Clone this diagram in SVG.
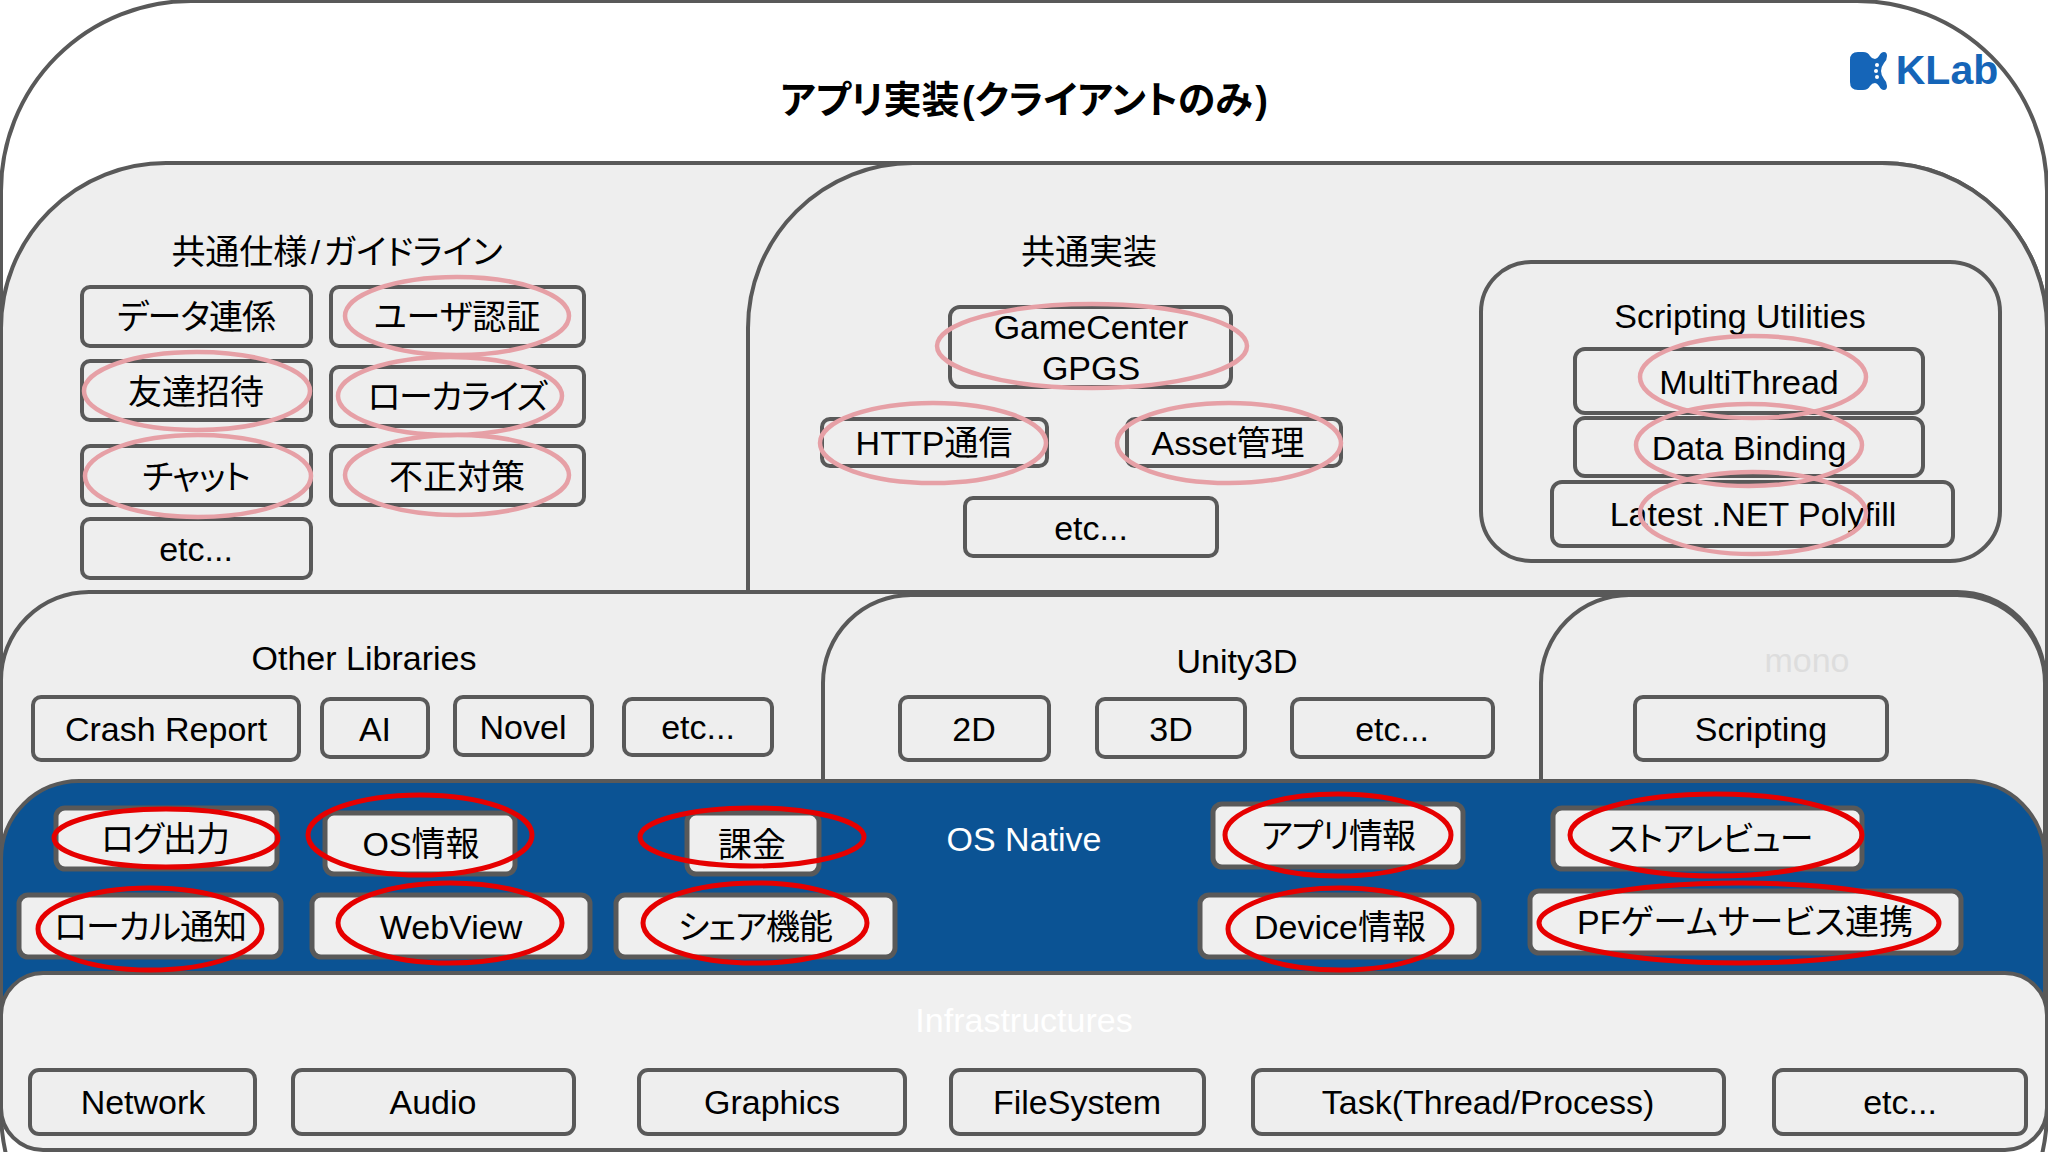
<svg xmlns="http://www.w3.org/2000/svg" width="2048" height="1152" viewBox="0 0 2048 1152">
<style>
text{font-family:"Liberation Sans","Noto Sans CJK JP",sans-serif;font-size:34px;fill:#000;text-anchor:middle;font-feature-settings:"palt"}
.panel{fill:#eeeeee;stroke:#595959;stroke-width:4}
.box{fill:#eeeeee;stroke:#595959;stroke-width:4}
.nbox{fill:#efefef;stroke:#595959;stroke-width:5}
.pink{fill:none;stroke:#e6a0a6;stroke-width:4.5}
.red{fill:none;stroke:#e60000;stroke-width:5}
.wh{fill:#ffffff}
.ka{letter-spacing:-1px}
</style>
<rect width="2048" height="1152" fill="#fff"/>
<g id="app"><rect class="panel" style="fill:#fff" x="1" y="1" width="2046" height="1300" rx="190" ry="190"/>
<text x="1024" y="113" style="font-size:38px;font-weight:bold;word-spacing:-8px">アプリ実装 (クライアントのみ )</text></g>
<g id="logo"><path d="M1850 60Q1850 52 1858 52H1863Q1868 52 1870 56Q1872 59 1875 59Q1877 59 1879 56Q1881 52 1884 52Q1887 52 1887 56Q1887 60 1884 63Q1881 67 1881 71Q1881 75 1884 79Q1887 82 1887 86Q1887 90 1884 90Q1881 90 1879 86Q1877 83 1875 83Q1872 83 1870 86Q1868 90 1863 90H1858Q1850 90 1850 82Z" fill="#1565b8"/><circle cx="1877" cy="65" r="2" fill="#fff"/><circle cx="1876" cy="71" r="2" fill="#fff"/><circle cx="1877" cy="77" r="2" fill="#fff"/><text x="1947" y="84" style="font-size:41px;font-weight:bold;fill:#1565b8">KLab</text></g>
<g id="common-spec"><rect class="panel" x="1" y="163" width="2046" height="900" rx="165" ry="165"/>
<text x="337" y="264" style="word-spacing:-6px">共通仕様 / ガイドライン</text></g>
<g id="common-impl"><rect class="panel" x="748" y="163" width="1299" height="900" rx="165" ry="165"/>
<text x="1089" y="264">共通実装</text></g>
<g id="scripting-utilities"><rect class="panel" x="1481" y="262" width="519" height="299" rx="50" ry="50"/>
<text x="1740" y="328">Scripting Utilities</text></g>

<g id="spec1"><rect class="box" x="82" y="287" width="229" height="59" rx="8"/><text class="ka" x="196" y="329">データ連係</text></g>
<g id="spec2"><rect class="box" x="331" y="287" width="253" height="59" rx="8"/><text x="457" y="329">ユーザ認証</text></g>
<g id="spec3"><rect class="box" x="82" y="361" width="229" height="59" rx="8"/><text x="196" y="404">友達招待</text></g>
<g id="spec4"><rect class="box" x="331" y="367" width="253" height="59" rx="8"/><text x="457" y="409" style="letter-spacing:-1.5px">ローカライズ</text></g>
<g id="spec5"><rect class="box" x="82" y="446" width="229" height="59" rx="8"/><text class="ka" x="196" y="489">チャット</text></g>
<g id="spec6"><rect class="box" x="331" y="446" width="253" height="59" rx="8"/><text x="457" y="489">不正対策</text></g>
<g id="spec7"><rect class="box" x="82" y="519" width="229" height="59" rx="8"/><text x="196" y="561">etc...</text></g>

<g id="impl1"><rect class="box" x="950" y="307" width="281" height="80" rx="10"/><text x="1091" y="339">GameCenter</text><text x="1091" y="380">GPGS</text></g>
<g id="impl2"><rect class="box" x="822" y="419" width="225" height="47" rx="8"/><text x="934" y="455">HTTP通信</text></g>
<g id="impl3"><rect class="box" x="1127" y="419" width="214" height="47" rx="8"/><text x="1228" y="455">Asset管理</text></g>
<g id="impl4"><rect class="box" x="965" y="498" width="252" height="58" rx="8"/><text x="1091" y="540">etc...</text></g>

<g id="su1"><rect class="box" x="1575" y="349" width="348" height="64" rx="10"/><text x="1749" y="394">MultiThread</text></g>
<g id="su2"><rect class="box" x="1575" y="418" width="348" height="58" rx="10"/><text x="1749" y="460">Data Binding</text></g>
<g id="su3"><rect class="box" x="1552" y="482" width="401" height="64" rx="10"/><text x="1753" y="526">Latest .NET Polyfill</text></g>

<g id="other-libs"><rect class="panel" x="1" y="592" width="2044" height="500" rx="88" ry="88"/>
<text x="364" y="670">Other Libraries</text></g>
<g id="unity"><rect class="panel" x="823" y="595" width="1222" height="500" rx="88" ry="88"/>
<text x="1237" y="673">Unity3D</text></g>
<g id="mono"><rect class="panel" x="1541" y="595" width="504" height="500" rx="88" ry="88"/>
<text x="1807" y="672" style="fill:#dddddd">mono</text></g>

<g id="lib1"><rect class="box" x="33" y="697" width="266" height="63" rx="8"/><text x="166" y="741">Crash Report</text></g>
<g id="lib2"><rect class="box" x="322" y="699" width="106" height="58" rx="8"/><text x="375" y="741">AI</text></g>
<g id="lib3"><rect class="box" x="455" y="697" width="137" height="58" rx="8"/><text x="523" y="739">Novel</text></g>
<g id="lib4"><rect class="box" x="624" y="699" width="148" height="56" rx="8"/><text x="698" y="739">etc...</text></g>
<g id="u1"><rect class="box" x="900" y="697" width="149" height="63" rx="8"/><text x="974" y="741">2D</text></g>
<g id="u2"><rect class="box" x="1097" y="699" width="148" height="58" rx="8"/><text x="1171" y="741">3D</text></g>
<g id="u3"><rect class="box" x="1292" y="699" width="201" height="58" rx="8"/><text x="1392" y="741">etc...</text></g>
<g id="m1"><rect class="box" x="1635" y="697" width="252" height="63" rx="8"/><text x="1761" y="741">Scripting</text></g>

<g id="native"><rect x="1" y="781" width="2044" height="300" rx="78" ry="78" fill="#0b5394" stroke="#595959" stroke-width="4"/>
<text class="wh" x="1024" y="851">OS Native</text></g>
<g id="infra"><rect class="panel" style="fill:#f0f0f0" x="1" y="973" width="2046" height="177" rx="42" ry="42"/>
<text class="wh" x="1024" y="1032">Infrastructures</text></g>

<g id="n1"><rect class="nbox" x="56" y="808" width="221" height="61" rx="9"/><text class="ka" x="165" y="851">ログ出力</text></g>
<g id="n2"><rect class="nbox" x="325" y="813" width="190" height="61" rx="9"/><text x="421" y="856">OS情報</text></g>
<g id="n3"><rect class="nbox" x="687" y="813" width="132" height="61" rx="9"/><text x="752" y="857">課金</text></g>
<g id="n4"><rect class="nbox" x="1213" y="804" width="250" height="63" rx="9"/><text class="ka" x="1338" y="848">アプリ情報</text></g>
<g id="n5"><rect class="nbox" x="1553" y="808" width="309" height="61" rx="9"/><text class="ka" x="1710" y="851">ストアレビュー</text></g>
<g id="n6"><rect class="nbox" x="19" y="895" width="262" height="62" rx="9"/><text class="ka" x="150" y="939">ローカル通知</text></g>
<g id="n7"><rect class="nbox" x="312" y="895" width="278" height="62" rx="9"/><text x="451" y="939">WebView</text></g>
<g id="n8"><rect class="nbox" x="616" y="895" width="279" height="62" rx="9"/><text class="ka" x="755" y="939">シェア機能</text></g>
<g id="n9"><rect class="nbox" x="1200" y="895" width="279" height="62" rx="9"/><text x="1340" y="939">Device情報</text></g>
<g id="n10"><rect class="nbox" x="1530" y="891" width="431" height="62" rx="9"/><text x="1745" y="934">PFゲームサービス連携</text></g>

<g id="i1"><rect class="box" x="30" y="1070" width="225" height="64" rx="9"/><text x="143" y="1114">Network</text></g>
<g id="i2"><rect class="box" x="293" y="1070" width="281" height="64" rx="9"/><text x="433" y="1114">Audio</text></g>
<g id="i3"><rect class="box" x="639" y="1070" width="266" height="64" rx="9"/><text x="772" y="1114">Graphics</text></g>
<g id="i4"><rect class="box" x="951" y="1070" width="253" height="64" rx="9"/><text x="1077" y="1114">FileSystem</text></g>
<g id="i5"><rect class="box" x="1253" y="1070" width="471" height="64" rx="9"/><text x="1488" y="1114">Task(Thread/Process)</text></g>
<g id="i6"><rect class="box" x="1774" y="1070" width="252" height="64" rx="9"/><text x="1900" y="1114">etc...</text></g>

<g id="highlights">
<ellipse class="pink" cx="457" cy="316" rx="112" ry="39"/>
<ellipse class="pink" cx="197" cy="391" rx="113" ry="39"/>
<ellipse class="pink" cx="450" cy="396" rx="112" ry="39"/>
<ellipse class="pink" cx="198" cy="476" rx="113" ry="41"/>
<ellipse class="pink" cx="457" cy="475" rx="112" ry="40"/>
<ellipse class="pink" cx="1092" cy="346" rx="155" ry="42"/>
<ellipse class="pink" cx="933" cy="443" rx="113" ry="40"/>
<ellipse class="pink" cx="1229" cy="443" rx="112" ry="40"/>
<ellipse class="pink" cx="1753" cy="377" rx="113" ry="41"/>
<ellipse class="pink" cx="1749" cy="445" rx="113" ry="41"/>
<ellipse class="pink" cx="1753" cy="513" rx="113" ry="41"/>
<ellipse class="red" cx="166" cy="838" rx="112" ry="29"/>
<ellipse class="red" cx="420" cy="835" rx="112" ry="40"/>
<ellipse class="red" cx="752" cy="837" rx="112" ry="29"/>
<ellipse class="red" cx="1338" cy="835" rx="113" ry="41"/>
<ellipse class="red" cx="1716" cy="835" rx="146" ry="41"/>
<ellipse class="red" cx="150" cy="929" rx="112" ry="41"/>
<ellipse class="red" cx="450" cy="923" rx="112" ry="40"/>
<ellipse class="red" cx="755" cy="923" rx="112" ry="40"/>
<ellipse class="red" cx="1340" cy="929" rx="112" ry="41"/>
<ellipse class="red" cx="1739" cy="923" rx="200" ry="40"/>
</g>
</svg>
